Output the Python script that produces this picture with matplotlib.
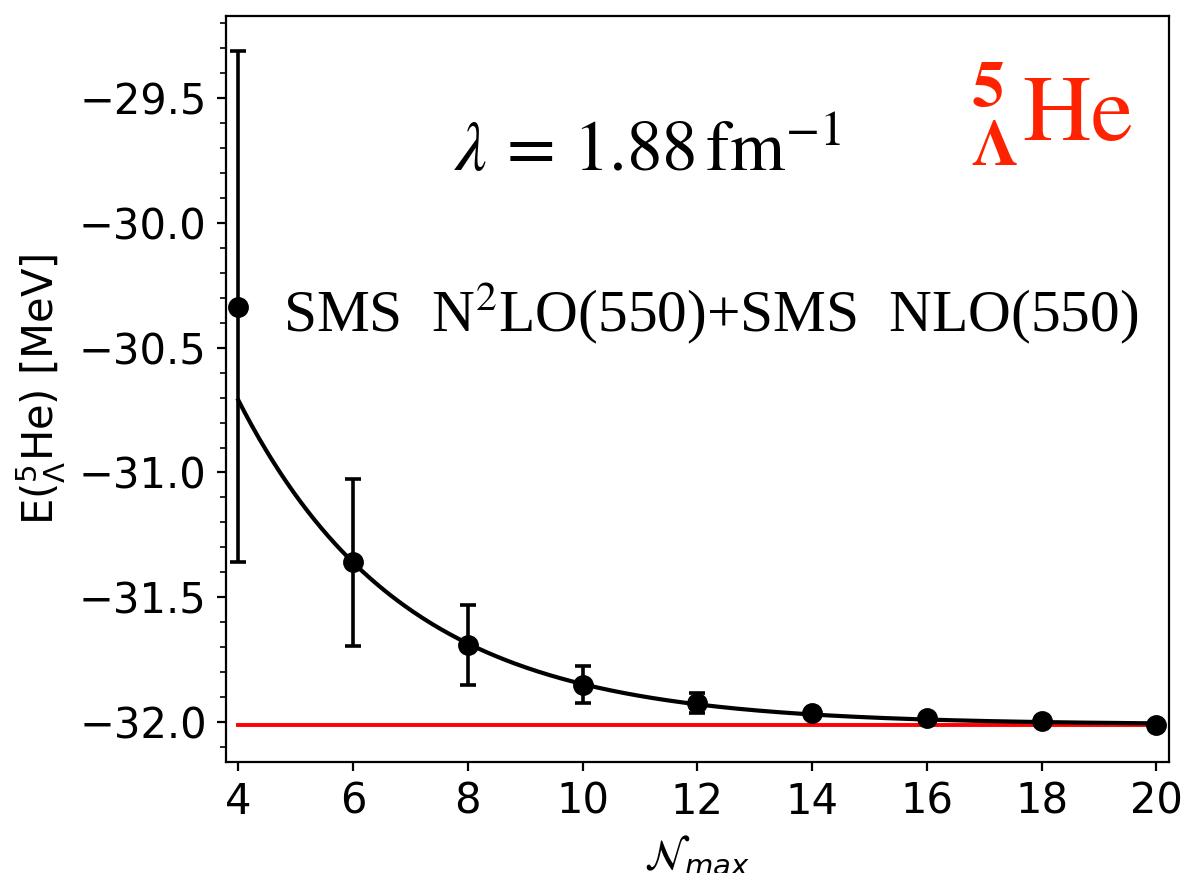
import numpy as np
import matplotlib
matplotlib.use("Agg")
import matplotlib.pyplot as plt
from matplotlib.ticker import MultipleLocator

# Basis truncation N_max and ground-state energies (MeV)
nmax = [4, 6, 8, 10, 12, 14, 16, 18, 20]
energy = [-30.335, -31.36, -31.69, -31.85, -31.925, -31.965, -31.985, -31.995, -32.01]
energy_err = [1.025, 0.335, 0.16, 0.073, 0.04, 0.012, 0.008, 0.005, 0.004]

# Exponential extrapolation E(N) = E_inf + A * exp(-b N)
fit_e_inf = -32.01
fit_amp = 5.2
fit_b = 0.3466
extrap_value = -32.01

fig = plt.figure(figsize=(5.92, 4.365), dpi=200)
ax = fig.add_axes([0.1906, 0.1271, 0.9873 - 0.1906, 0.982 - 0.1271])

nfine = np.linspace(nmax[0], nmax[-1], 400)
ax.plot(nfine, fit_e_inf + fit_amp * np.exp(-fit_b * nfine), color="black", lw=1.5, zorder=3)
ax.plot([nmax[0], nmax[-1]], [extrap_value, extrap_value], color="red", lw=1.4, zorder=2)
ax.errorbar(nmax, energy, yerr=energy_err, fmt="o", color="black", ms=6.5,
            capsize=3, elinewidth=1.3, capthick=1.3, zorder=4)

ax.set_xlim(3.78, 20.22)
ax.set_ylim(-32.16, -29.17)
ax.set_xticks(range(4, 21, 2))
ax.yaxis.set_major_locator(MultipleLocator(0.5))
ax.yaxis.set_minor_locator(MultipleLocator(0.1))
ax.tick_params(axis="both", labelsize=15, length=3.3, width=0.8)
ax.tick_params(axis="y", which="minor", length=2, width=0.6)

ax.set_xlabel(r"$\mathcal{N}_{max}$", fontsize=15)
ax.set_ylabel(r"E($^5_\Lambda$He) [MeV]", fontsize=15)

ax.text(0.447, 0.792, r"$\lambda\,=\,1.88\,\mathrm{fm}^{-1}$", transform=ax.transAxes,
        fontsize=25.5, math_fontfamily="stix", ha="center", va="baseline",
        color="black")
ax.text(0.0605, 0.576, r"SMS  N$^2$LO(550)+SMS  NLO(550)", transform=ax.transAxes,
        fontsize=21.4, family="Liberation Serif", math_fontfamily="stix",
        ha="left", va="baseline", color="black")
ax.text(0.962, 0.833, r"$^{\mathbf{5}}_{\mathbf{\Lambda}}\mathrm{He}$", transform=ax.transAxes,
        fontsize=34, math_fontfamily="stix", ha="right", va="baseline",
        color="#ff2200")

fig.savefig("out.png", dpi=200)
